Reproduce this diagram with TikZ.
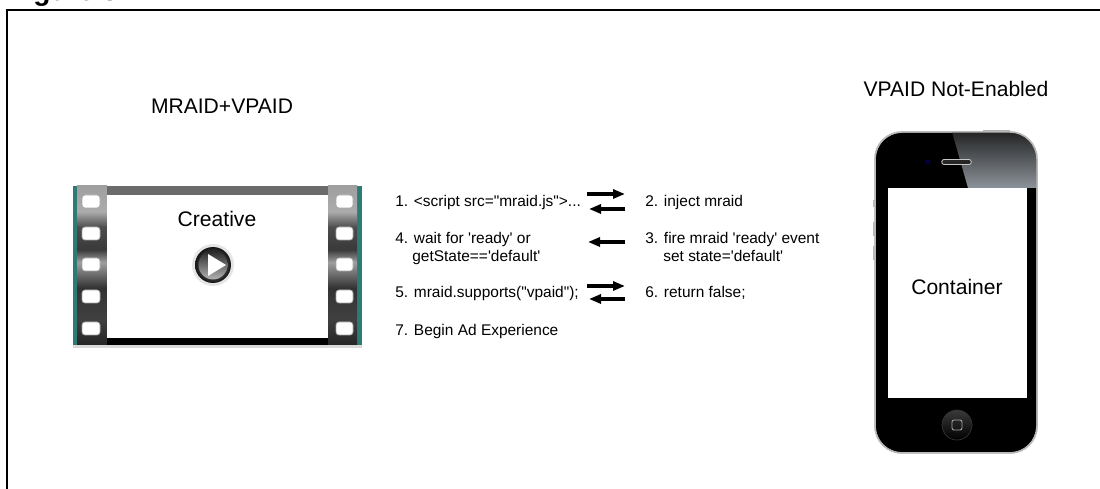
\documentclass[tikz,border=0pt]{standalone}
\usepackage{fontspec}
\setmainfont{Liberation Sans}[Ligatures=TeXOff]
\usetikzlibrary{arrows.meta,shadows}

\definecolor{filmteal}{HTML}{2E7B76}
\definecolor{filmtop}{HTML}{6B6B6B}
\definecolor{phoneglass}{HTML}{8C939A}

% metallic look of the sprocket columns (visible part is 25bp..75bp)
\pgfdeclareverticalshading{sprocket}{100bp}{
  color(0bp)=(black!85); color(25bp)=(black!85); color(33bp)=(black!75);
  color(43bp)=(gray!40!black); color(51bp)=(gray!75); color(55bp)=(gray!45!black);
  color(62bp)=(black!70); color(67bp)=(gray!65); color(75bp)=(gray!75);
  color(100bp)=(gray!75)}

\begin{document}
\begin{tikzpicture}[
    x=0.02cm, y=-0.02cm,
    title/.style={font=\fontsize{12}{14}\selectfont, anchor=base, inner sep=0pt},
    steptext/.style={font=\fontsize{8.8}{11}\selectfont, anchor=base west, inner sep=0pt},
    flow/.style={-{Triangle[length=0.24cm,width=0.18cm]}, line width=0.065cm},
    hole/.style={draw=gray!70, fill=white, rounded corners=0.06cm, line width=0.4pt}
]
    \useasboundingbox (0,0) rectangle (1100,489);

    % Caption and frame
    \node[font=\fontsize{16}{18}\selectfont\bfseries, anchor=base west, inner sep=0pt] (caption) at (8,1) {Figure 3};
    \draw[line width=0.04cm] (7,500) -- (7,10.5) -- (1110,10.5);

    % Headings
    \node[title] (mraid) at (222,114) {MRAID+VPAID};
    \node[title] (notenabled) at (956,97) {VPAID Not-Enabled};

    % Film strip (creative)
    \path[fill=black, drop shadow={opacity=0.3, shadow xshift=0pt, shadow yshift=-0.06cm}] (73,186) rectangle (362,345);
    \fill[filmteal] (73,186) rectangle (362,345);
    \shade[shading=sprocket] (77,186) rectangle (107,345);
    \shade[shading=sprocket] (328,186) rectangle (357,345);
    \fill[filmtop] (107,186) rectangle (328,195);
    \fill[black] (107,338) rectangle (328,345);
    \fill[white] (107,195) rectangle (328,338);
    \foreach \y in {195,227,258,290,322} {
        \draw[hole] (82,\y) rectangle ++(18,13);
        \draw[hole] (336,\y) rectangle ++(17,13);
    }
    \node[title] (creative) at (217,227) {Creative};

    % Play button
    \fill[gray!40, opacity=0.5] (213,265) circle (0.42cm);
    \shade[inner color=gray!70, outer color=gray!15!black] (213,265) circle (0.36cm);
    \shade[top color=black!85, bottom color=gray!60] (213,265) circle (0.29cm);
    \fill[white] (208,254) -- (226,265) -- (208,276) -- cycle;

    % Steps on the creative side
    \node[steptext] (s1) at (395,207) {1. <script src="mraid.js">...};
    \node[steptext] (s4) at (395,244) {4. wait for 'ready' or};
    \node[steptext] (s4b) at (412,262) {getState=='default'};
    \node[steptext] (s5) at (395,298) {5. mraid.supports("vpaid");};
    \node[steptext] (s7) at (395,336) {7. Begin Ad Experience};

    % Steps on the container side
    \node[steptext] (s2) at (645,207) {2. inject mraid};
    \node[steptext] (s3) at (645,244) {3. fire mraid 'ready' event};
    \node[steptext] (s3b) at (663,262) {set state='default'};
    \node[steptext] (s6) at (645,298) {6. return false;};

    % Arrow ends
    \coordinate (req1) at (587,194);  \coordinate (req1e) at (625,194);
    \coordinate (ans1) at (625,209);  \coordinate (ans1e) at (589,209);
    \coordinate (evt) at (625,242);   \coordinate (evte) at (588,242);
    \coordinate (req2) at (587,286);  \coordinate (req2e) at (625,286);
    \coordinate (ans2) at (625,299);  \coordinate (ans2e) at (589,299);

    % Arrows
    \draw[flow] (req1) -- (req1e);
    \draw[flow] (ans1) -- (ans1e);
    \draw[flow] (evt) -- (evte);
    \draw[flow] (req2) -- (req2e);
    \draw[flow] (ans2) -- (ans2e);

    % Phone (container)
    \fill[gray!60] (983,130.5) rectangle (1010,134);
    \fill[gray!55] (873,200) rectangle (876,207);
    \fill[gray!55] (873,222) rectangle (876,236);
    \fill[gray!55] (873,246) rectangle (876,260);
    \draw[fill=black, draw=gray!55, line width=0.03cm, rounded corners=0.54cm] (875,132) rectangle (1037,453);
    \begin{scope}
        \clip[rounded corners=0.54cm] (875,132) rectangle (1037,453);
        \shade[top color=gray!25!black, bottom color=phoneglass] (952,132) -- (968,188) -- (1040,188) -- (1040,130) -- (951,130) -- cycle;
    \end{scope}
    \draw[gray!55, line width=0.03cm, rounded corners=0.54cm] (875,132) rectangle (1037,453);
    \fill[white] (888,188) rectangle (1027,398);
    \node[title] (container) at (957,295) {Container};

    % Earpiece, camera and home button
    \draw[line width=0.11cm, line cap=round, gray!45] (944,162) -- (969,162);
    \draw[line width=0.07cm, line cap=round, black!85] (944,162) -- (969,162);
    \fill[blue!25!black] (928,162) circle (0.05cm);
    \shade[top color=gray!45!black, bottom color=black, draw=gray!40!black] (957,425) circle (0.3cm);
    \draw[gray!70, rounded corners=0.04cm, line width=0.5pt] (952,420) rectangle (962,430);
\end{tikzpicture}
\end{document}
